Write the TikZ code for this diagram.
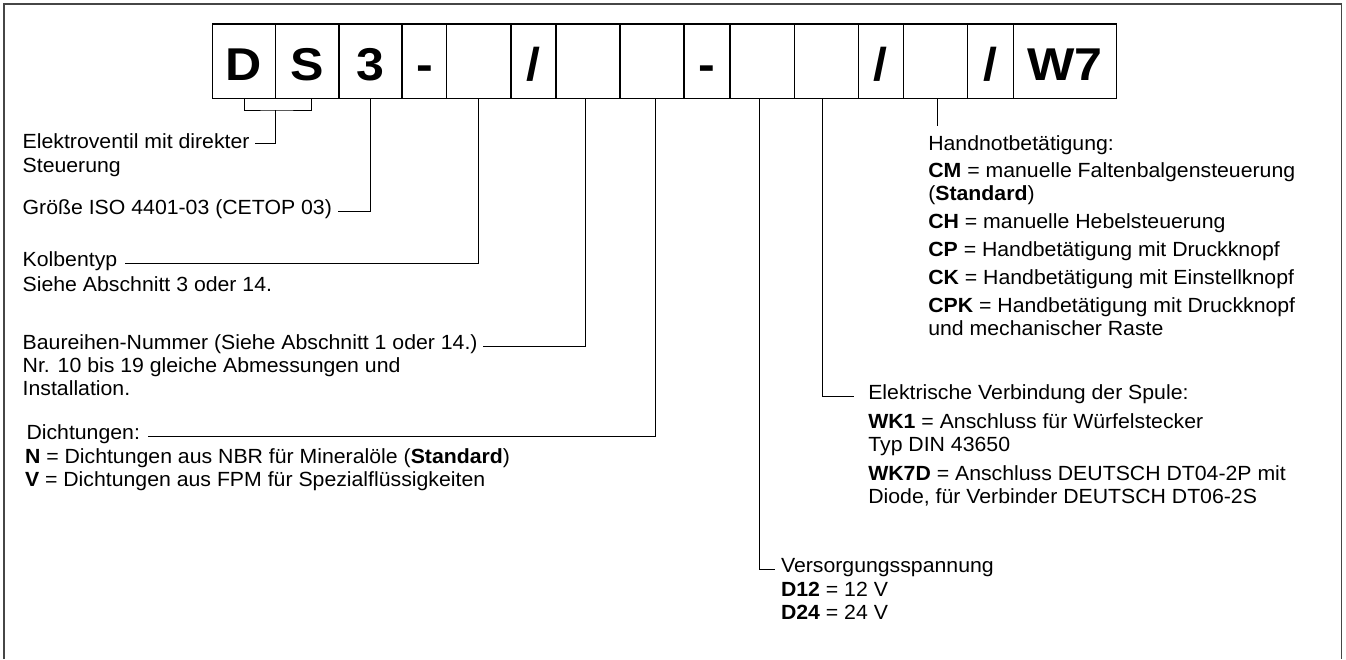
\documentclass[tikz,border=0pt]{standalone}
\usepackage{fontspec}
\setmainfont{Liberation Sans}[FakeStretch=1.037]
\newfontfamily\cellfont{Liberation Sans}[FakeStretch=1.09]
\definecolor{framegray}{RGB}{70,70,70}
\begin{document}
\begin{tikzpicture}[x=1pt,y=-1pt,
  lbl/.style={anchor=base west, inner sep=0pt, outer sep=0pt, font=\fontsize{20.5}{23}\selectfont},
  cell/.style={draw=black, line width=1.1pt, minimum height=74.7pt, inner sep=0pt, outer sep=0pt,
               text height=37.3pt, text depth=0pt, font=\cellfont\fontsize{46}{50}\selectfont\bfseries},
  conn/.style={draw=black, line width=0.9pt},
  frm/.style={draw=framegray, line width=1.4pt}]
\useasboundingbox (0,0) rectangle (1346,659);
\fill[white] (0,0) rectangle (1346,659);
\draw[frm] (4,659) -- (4,4) -- (1341.7,4) -- (1341.7,659);

% code cells
\node[cell, minimum width=63.4pt] (c1)  at (244,61.35)    {D};
\node[cell, minimum width=63.3pt] (c2)  at (307.35,61.35) {S};
\node[cell, minimum width=63pt]   (c3)  at (370.5,61.35)  {3};
\node[cell, minimum width=44.7pt] (c4)  at (424.35,61.35) {-};
\node[cell, minimum width=64.3pt] (c5)  at (478.85,61.35) {};
\node[cell, minimum width=45pt]   (c6)  at (533.5,61.35)  {/};
\node[cell, minimum width=64pt]   (c7)  at (588,61.35)    {};
\node[cell, minimum width=64pt]   (c8)  at (652,61.35)    {};
\node[cell, minimum width=46pt]   (c9)  at (707,61.35)    {-};
\node[cell, minimum width=64.3pt] (c10) at (762.15,61.35) {};
\node[cell, minimum width=64pt]   (c11) at (826.3,61.35)  {};
\node[cell, minimum width=45pt]   (c12) at (880.8,61.35)  {/};
\node[cell, minimum width=64pt]   (c13) at (935.3,61.35)  {};
\node[cell, minimum width=46pt]   (c14) at (990.3,61.35)  {/};
\node[cell, minimum width=103.4pt](c15) at (1065,61.35)   {W7};

% left labels
\node[lbl] (l1a) at (22.7,148)   {Elektroventil mit direkter};
\node[lbl] (l1b) at (22.7,172)   {Steuerung};
\node[lbl] (l2)  at (22.7,214.5) {Größe ISO 4401-03 (CETOP 03)};
\node[lbl] (l3a) at (22.7,266.5) {Kolbentyp};
\node[lbl] (l3b) at (22.7,291)   {Siehe Abschnitt 3 oder 14.};
\node[lbl] (l4a) at (22.7,349)   {Baureihen-Nummer (Siehe Abschnitt 1 oder 14.)};
\node[lbl] (l4b) at (22.7,372)   {Nr. 10 bis 19 gleiche Abmessungen und};
\node[lbl] (l4c) at (22.7,395)   {Installation.};
\node[lbl] (l5a) at (26.5,439.5) {Dichtungen:};
\node[lbl] (l5b) at (25,463)     {\textbf{N} = Dichtungen aus NBR für Mineralöle (\textbf{Standard})};
\node[lbl] (l5c) at (25,486)     {\textbf{V} = Dichtungen aus FPM für Spezialflüssigkeiten};

% right labels
\node[lbl] (r1a) at (928.3,150)   {Handnotbetätigung:};
\node[lbl] (r1b) at (928.3,177.5) {\textbf{CM} = manuelle Faltenbalgensteuerung};
\node[lbl] (r1c) at (928.3,200)   {(\textbf{Standard})};
\node[lbl] (r1d) at (928.3,228)   {\textbf{CH} = manuelle Hebelsteuerung};
\node[lbl] (r1e) at (928.3,256.5) {\textbf{CP} = Handbetätigung mit Druckknopf};
\node[lbl] (r1f) at (928.3,284)   {\textbf{CK} = Handbetätigung mit Einstellknopf};
\node[lbl] (r1g) at (928.3,312)   {\textbf{CPK} = Handbetätigung mit Druckknopf};
\node[lbl] (r1h) at (928.3,335)   {und mechanischer Raste};

\node[lbl] (r2a) at (868.3,399) {Elektrische Verbindung der Spule:};
\node[lbl] (r2b) at (868.3,428) {\textbf{WK1} = Anschluss für Würfelstecker};
\node[lbl] (r2c) at (868.3,451) {Typ DIN 43650};
\node[lbl] (r2d) at (868.3,480) {\textbf{WK7D} = Anschluss DEUTSCH DT04-2P mit};
\node[lbl] (r2e) at (868.3,503) {Diode, für Verbinder DEUTSCH DT06-2S};

\node[lbl] (r3a) at (781,572) {Versorgungsspannung};
\node[lbl] (r3b) at (781,596) {\textbf{D12} = 12 V};
\node[lbl] (r3c) at (781,619) {\textbf{D24} = 24 V};

% connectors
\coordinate (br) at (275.7,110);
\draw[conn] (c1.south) |- (br) -| ([xshift=4.3pt]c2.south);
\draw[conn] (br) |- ([shift={(5pt,2pt)}]l1a.mid east);
\draw[conn] (c3.south) |- ([xshift=6pt]l2.mid east);
\draw[conn] (c5.south) |- ([xshift=8pt]l3a.mid east);
\draw[conn] ([xshift=-3pt]c7.south) |- ([xshift=5pt]l4a.mid east);
\draw[conn] ([xshift=3.7pt]c8.south) |- ([xshift=8pt]l5a.mid east);
\draw[conn] ([xshift=-2.9pt]c10.south) |- ([xshift=-6pt]r3a.mid west);
\draw[conn] ([xshift=-3.6pt]c11.south) |- ([xshift=-14pt]r2a.mid west);
\coordinate (hn) at (937.3,126);
\draw[conn] ([xshift=2pt]c13.south) -- (hn);
\end{tikzpicture}
\end{document}
